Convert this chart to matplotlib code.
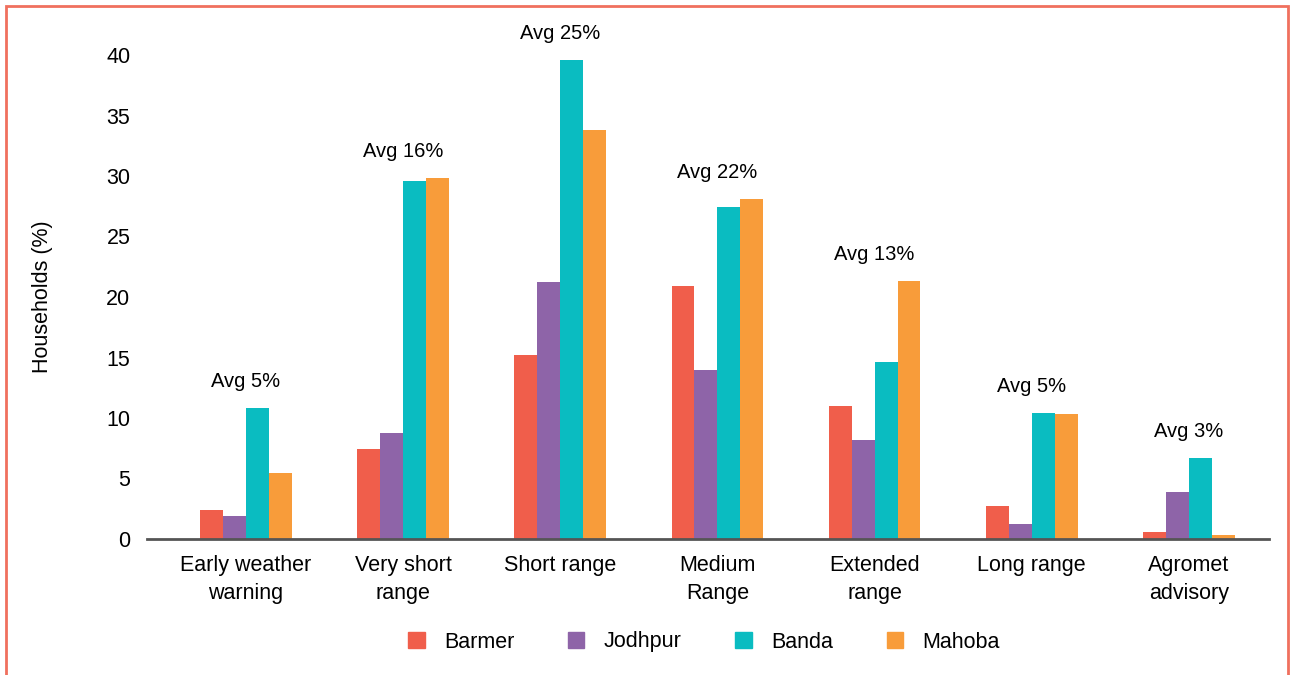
import numpy as np
import matplotlib
matplotlib.use('Agg')
import matplotlib.pyplot as plt
import matplotlib.patches as mpatches

plt.rcParams['font.family'] = ['Liberation Sans', 'DejaVu Sans']

categories = ['Early weather\nwarning', 'Very short\nrange', 'Short range',
              'Medium\nRange', 'Extended\nrange', 'Long range', 'Agromet\nadvisory']
districts = ['Barmer', 'Jodhpur', 'Banda', 'Mahoba']
barmer = [2.4, 7.4, 15.2, 20.9, 11.0, 2.75, 0.6]
jodhpur = [1.9, 8.8, 21.2, 14.0, 8.2, 1.2, 3.9]
banda = [10.8, 29.6, 39.6, 27.4, 14.6, 10.4, 6.7]
mahoba = [5.45, 29.8, 33.8, 28.1, 21.3, 10.3, 0.35]
averages = ['Avg 5%', 'Avg 16%', 'Avg 25%', 'Avg 22%', 'Avg 13%', 'Avg 5%', 'Avg 3%']

colors = ['#F05E4B', '#8E64A8', '#0ABCC1', '#F89C3A']
series = [barmer, jodhpur, banda, mahoba]

fig = plt.figure(figsize=(12.93, 6.75), dpi=100)
ax = fig.add_axes([147 / 1293, 1 - 539 / 675, 1122 / 1293, 484 / 675])

x = np.arange(len(categories))
w = 0.146
for i, vals in enumerate(series):
    ax.bar(x + (i - 1.5) * w, vals, width=w, color=colors[i], label=districts[i], zorder=2)

# average label above each group
for j in range(len(categories)):
    top = max(s[j] for s in series)
    ax.text(x[j], top + 2.2, averages[j], ha='center', va='center', fontsize=14.5,
            clip_on=False)

ax.set_xlim(-0.63, 6.51)
ax.set_ylim(0, 40)
ax.set_yticks(range(0, 41, 5))
ax.set_xticks(x)
ax.set_xticklabels(categories, fontsize=15.5, linespacing=1.45)
ax.tick_params(axis='both', length=0, labelsize=15.5)
ax.tick_params(axis='x', pad=11.5)
ax.tick_params(axis='y', pad=12)
for side in ['left', 'right', 'top']:
    ax.spines[side].set_visible(False)
ax.spines['bottom'].set_color('#555555')
ax.spines['bottom'].set_linewidth(2)
ax.spines['bottom'].set_zorder(3)
ax.set_ylabel('Households (%)', fontsize=15.5, labelpad=38)

handles = [mpatches.Patch(color=c, label=d) for c, d in zip(colors, districts)]
fig.legend(handles=handles, loc='center', bbox_to_anchor=(704 / 1293, 1 - 642 / 675),
           ncol=4, frameon=False, fontsize=15.5, handlelength=0.75, handleheight=0.75,
           handletextpad=0.9, columnspacing=2.5)

# coral frame around the figure
fig.patches.append(mpatches.Rectangle((6 / 1293, -0.05), 1282 / 1293, 1.05 - 6 / 675,
                                      transform=fig.transFigure, fill=False,
                                      edgecolor='#F0705E', linewidth=2))

fig.savefig('out.png', dpi=100)
